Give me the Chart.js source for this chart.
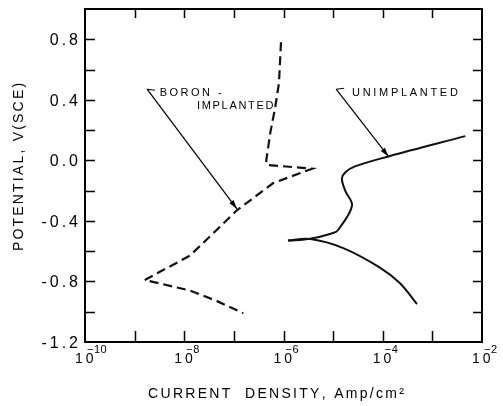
<!DOCTYPE html>
<html>
<head>
<meta charset="utf-8">
<script src="https://cdn.jsdelivr.net/npm/chart.js@4.4.0/dist/chart.umd.min.js"></script>
<style>
html, body { margin: 0; padding: 0; background: #fff; }
canvas { display: block; }
</style>
</head>
<body>
<canvas id="tafelChart" width="503" height="406"></canvas>
<script>
// current density (A/cm2) vs potential (V, SCE)
const boronCurrent = [8.9e-7, 8.1e-7, 6.8e-7, 5.4e-7, 4.5e-7, 4.6e-7, 3.8e-6, 6.2e-7, 1.15e-7, 1.3e-8, 1.6e-9, 1.3e-8, 4.6e-8, 1.55e-7];
const boronPotential = [0.78, 0.51, 0.35, 0.18, 0.0, -0.03, -0.055, -0.15, -0.33, -0.63, -0.79, -0.86, -0.93, -1.01];

const unimpAnodicCurrent = [4.6e-3, 1.3e-4, 2.75e-5, 1.75e-5, 1.5e-5, 1.75e-5, 2.4e-5, 1.26e-5, 1.0e-5, 3.2e-6, 1.23e-6];
const unimpAnodicPotential = [0.16, 0.026, -0.04, -0.08, -0.12, -0.2, -0.30, -0.46, -0.48, -0.52, -0.53];

const unimpCathodicCurrent = [1.23e-6, 3.5e-6, 1.6e-5, 8.9e-5, 2.2e-4, 4.9e-4];
const unimpCathodicPotential = [-0.53, -0.52, -0.58, -0.71, -0.81, -0.95];

const yTickValues = [-1.2, -0.8, -0.4, 0.0, 0.4, 0.8];
const yTickLabels = ['-1.2', '-0.8', '-0.4', '0.0', '0.4', '0.8'];
const xTickValues = [1e-10, 1e-8, 1e-6, 1e-4, 1e-2];
const xTickExponents = ['-10', '-8', '-6', '-4', '-2'];

const FONT = "'Liberation Sans', Arial, sans-serif";

function toPoints(xs, ys) {
    return xs.map((x, i) => ({ x: x, y: ys[i] }));
}

// canvas text with extra spacing between letters
function drawSpaced(ctx, str, x, y, spacing, align) {
    const chars = [...str];
    const widths = chars.map(ch => ctx.measureText(ch).width);
    const total = widths.reduce((a, b) => a + b, 0) + spacing * (chars.length - 1);
    let cx = x;
    if (align === 'center') cx = x - total / 2;
    if (align === 'right') cx = x - total;
    ctx.textAlign = 'left';
    chars.forEach((ch, i) => {
        ctx.fillText(ch, cx, y);
        cx += widths[i] + spacing;
    });
}

function arrow(ctx, x0, y0, x1, y1) {
    ctx.beginPath();
    ctx.moveTo(x0, y0);
    ctx.lineTo(x1, y1);
    ctx.stroke();
    const ang = Math.atan2(y1 - y0, x1 - x0);
    const len = 9, half = 2.6;
    ctx.beginPath();
    ctx.moveTo(x1, y1);
    ctx.lineTo(x1 - len * Math.cos(ang) + half * Math.sin(ang), y1 - len * Math.sin(ang) - half * Math.cos(ang));
    ctx.lineTo(x1 - len * Math.cos(ang) - half * Math.sin(ang), y1 - len * Math.sin(ang) + half * Math.cos(ang));
    ctx.closePath();
    ctx.fill();
}

const frameAndLabels = {
    id: 'frameAndLabels',
    afterDraw(chart) {
        const ctx = chart.ctx;
        const a = chart.chartArea;
        const sx = chart.scales.x, sy = chart.scales.y;
        ctx.save();
        ctx.strokeStyle = '#000';
        ctx.fillStyle = '#000';

        // box
        ctx.lineWidth = 2;
        ctx.strokeRect(a.left, a.top, a.right - a.left, a.bottom - a.top);

        // inward ticks
        ctx.lineWidth = 1.5;
        ctx.beginPath();
        for (let e = -9; e <= -3; e++) {
            const px = Math.round(sx.getPixelForValue(Math.pow(10, e))) + 0.5;
            ctx.moveTo(px, a.bottom); ctx.lineTo(px, a.bottom - 11);
            ctx.moveTo(px, a.top); ctx.lineTo(px, a.top + 9);
        }
        for (let k = -5; k <= 4; k++) {
            const py = Math.round(sy.getPixelForValue(k * 0.2)) + 0.5;
            ctx.moveTo(a.left, py); ctx.lineTo(a.left + 10, py);
            ctx.moveTo(a.right, py); ctx.lineTo(a.right - 9, py);
        }
        ctx.stroke();

        // y tick labels
        ctx.font = '16px ' + FONT;
        ctx.textBaseline = 'alphabetic';
        yTickValues.forEach((v, i) => {
            drawSpaced(ctx, yTickLabels[i], a.left - 7, sy.getPixelForValue(v) + 6, 3, 'right');
        });

        // x tick labels, 10 with superscript exponent
        xTickValues.forEach((v, i) => {
            const px = sx.getPixelForValue(v);
            ctx.font = '14px ' + FONT;
            drawSpaced(ctx, '10', px - 10, a.bottom + 21, 3, 'left');
            ctx.font = '11px ' + FONT;
            drawSpaced(ctx, xTickExponents[i].replace('-', '\u2212'), px + 2, a.bottom + 11, 0.5, 'left');
        });

        // axis titles
        ctx.font = '14px ' + FONT;
        drawSpaced(ctx, 'CURRENT  DENSITY, Amp/cm\u00B2', 276, 398, 2.3, 'center');
        ctx.save();
        ctx.translate(23, 167);
        ctx.rotate(-Math.PI / 2);
        drawSpaced(ctx, 'POTENTIAL, V(SCE)', 0, 0, 2.2, 'center');
        ctx.restore();

        // curve labels with leader arrows
        ctx.lineWidth = 1.2;
        ctx.font = '11px ' + FONT;
        drawSpaced(ctx, 'BORON -', sx.getPixelForValue(3.2e-9), sy.getPixelForValue(0.423), 2.5, 'left');
        drawSpaced(ctx, 'IMPLANTED', sx.getPixelForValue(1.8e-8), sy.getPixelForValue(0.337), 1.7, 'left');
        drawSpaced(ctx, 'UNIMPLANTED', sx.getPixelForValue(2.4e-5), sy.getPixelForValue(0.423), 2.7, 'left');

        let p0x = sx.getPixelForValue(1.78e-9), p0y = sy.getPixelForValue(0.47);
        ctx.beginPath(); ctx.moveTo(p0x + 8, p0y + 1); ctx.lineTo(p0x, p0y); ctx.stroke();
        arrow(ctx, p0x, p0y, sx.getPixelForValue(1.15e-7), sy.getPixelForValue(-0.32));

        p0x = sx.getPixelForValue(1.15e-5); p0y = sy.getPixelForValue(0.47);
        ctx.beginPath(); ctx.moveTo(p0x + 8, p0y - 1); ctx.lineTo(p0x, p0y); ctx.stroke();
        arrow(ctx, p0x, p0y, sx.getPixelForValue(1.3e-4), sy.getPixelForValue(0.026));

        ctx.restore();
    }
};

new Chart(document.getElementById('tafelChart'), {
    type: 'scatter',
    data: {
        datasets: [{
            label: 'Boron-implanted',
            data: toPoints(boronCurrent, boronPotential),
            showLine: true,
            borderColor: '#111',
            borderWidth: 2.2,
            borderDash: [9, 5],
            pointRadius: 0,
            tension: 0
        }, {
            label: 'Unimplanted (anodic)',
            data: toPoints(unimpAnodicCurrent, unimpAnodicPotential),
            showLine: true,
            borderColor: '#111',
            borderWidth: 2,
            pointRadius: 0,
            tension: 0.35
        }, {
            label: 'Unimplanted (cathodic)',
            data: toPoints(unimpCathodicCurrent, unimpCathodicPotential),
            showLine: true,
            borderColor: '#111',
            borderWidth: 2,
            pointRadius: 0,
            tension: 0.4
        }]
    },
    options: {
        responsive: false,
        animation: false,
        events: [],
        layout: {
            padding: { left: 85, top: 9, right: 21, bottom: 64 }
        },
        plugins: {
            legend: { display: false },
            tooltip: { enabled: false }
        },
        scales: {
            x: { type: 'logarithmic', min: 1e-10, max: 1e-2, display: false },
            y: { type: 'linear', min: -1.2, max: 1.0, display: false }
        }
    },
    plugins: [frameAndLabels]
});
</script>
</body>
</html>
